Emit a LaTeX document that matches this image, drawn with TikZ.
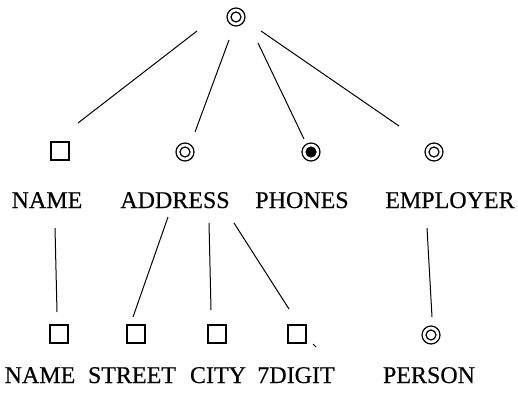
\documentclass[tikz,border=0pt]{standalone}
\usepackage{fontspec}
\setmainfont{Liberation Serif}
\newfontfamily\lblfont[FakeBold=0.4]{Liberation Serif}
\usetikzlibrary{calc,shapes.geometric}
\tikzset{
  sym/.style={inner sep=0pt, line width=1.2pt},
  dcirc/.style={sym, draw, circle, minimum size=18pt,
    path picture={\draw[line width=1.2pt] (path picture bounding box.center) circle (5pt);}},
  fcirc/.style={sym, draw, circle, minimum size=18pt,
    path picture={\fill (path picture bounding box.center) circle (5.6pt);}},
  sqbox/.style={sym, draw, rectangle, minimum size=18pt},
  lbl/.style={inner sep=0pt, anchor=base, font=\lblfont\fontsize{24}{26}\selectfont},
  edge/.style={line width=1pt}
}
\begin{document}
\begin{tikzpicture}[x=1pt,y=-1pt]
\useasboundingbox (0,0) rectangle (518,394);
% symbols
\node[dcirc] (root) at (236,17) {};
\node[sqbox] (n1) at (60,151) {};
\node[dcirc] (a1) at (185,152) {};
\node[fcirc] (p1) at (311,152) {};
\node[dcirc] (e1) at (434,152) {};
\node[sqbox] (n2) at (59,334) {};
\node[sqbox] (s2) at (136,334) {};
\node[sqbox] (c2) at (217,334) {};
\node[sqbox] (d2) at (297,334) {};
\node[dcirc] (pe2) at (431,335) {};
% labels
\node[lbl] (ln1) at (47,208) {NAME};
\node[lbl] (la1) at (175,208) {ADDRESS};
\node[lbl] (lp1) at (302,208) {PHONES};
\node[lbl] (le1) at (450,208) {EMPLOYER};
\node[lbl] (ln2) at (40,383) {NAME};
\node[lbl] (ls2) at (132,383) {STREET};
\node[lbl] (lc2) at (218,383) {CITY};
\node[lbl] (ld2) at (296,383) {7DIGIT};
\node[lbl] (lpe2) at (429,383) {PERSON};
% edges level 1
\draw[edge] ($(root)+(-39,14)$) -- ($(n1)+(18,-28)$);
\draw[edge] ($(root)+(-7,23)$) -- ($(a1)+(10,-20)$);
\draw[edge] ($(root)+(22,26)$) -- ($(p1)+(-7,-13)$);
\draw[edge] ($(root)+(25,14)$) -- ($(e1)+(-35,-26)$);
% edges level 2
\draw[edge] ($(ln1.base)+(8,20)$) -- ($(n2)+(-2,-22)$);
\draw[edge] ($(la1.base)+(-7,9)$) -- ($(s2)+(-3,-17)$);
\draw[edge] ($(la1.base)+(34,15)$) -- ($(c2)+(-6,-24)$);
\draw[edge] ($(la1.base)+(59,15)$) -- ($(d2)+(-8,-25)$);
\draw[edge] ($(le1.base)+(-23,20)$) -- ($(pe2)+(1,-18)$);
% small mark beside the 7DIGIT box
\draw[line width=1pt] ($(d2)+(16,10)$) -- ($(d2)+(19,13)$);
\end{tikzpicture}
\end{document}
